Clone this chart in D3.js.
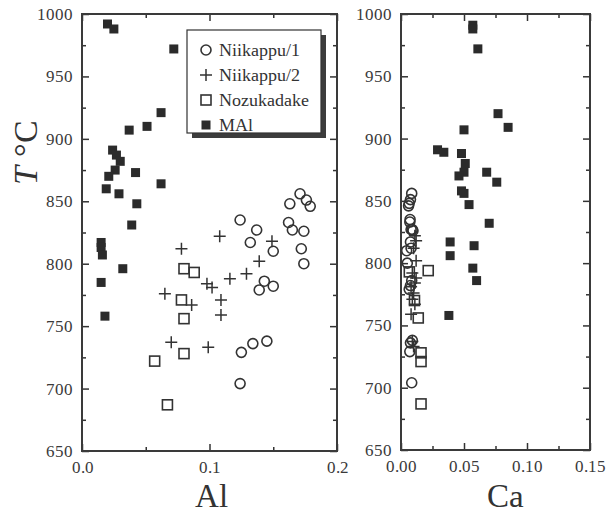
<!DOCTYPE html>
<html>
<head>
<meta charset="utf-8">
<script src="https://cdn.jsdelivr.net/npm/d3@7"></script>
<style>
  @font-face { font-family: 'ChartSerif'; src: local('Liberation Serif'), local('LiberationSerif'), local('Times New Roman'); font-style: normal; }
  @font-face { font-family: 'ChartSerif'; src: local('Liberation Serif Italic'), local('LiberationSerif-Italic'); font-style: italic; }
  #fig text, #fig tspan { font-family: 'ChartSerif', 'Times New Roman', 'Liberation Serif', serif; }
</style>
</head>
<body style="margin:0">
<svg id="fig" width="608" height="517"></svg>
<script>
// Temperature (°C) versus Al and Ca contents, four sample groups.

// Niikappu/1 : [Al, T]
const niikappu1Al = [
  [0.171, 856], [0.163, 848], [0.176, 851], [0.179, 846], [0.124, 835],
  [0.162, 833], [0.165, 827], [0.174, 826], [0.137, 827], [0.132, 817],
  [0.150, 810], [0.172, 812], [0.174, 800], [0.143, 786], [0.139, 779],
  [0.150, 782], [0.125, 729], [0.134, 736], [0.145, 738], [0.124, 704]
];
// Niikappu/2 : [Al, T]
const niikappu2Al = [
  [0.078, 812], [0.108, 822], [0.149, 818], [0.139, 802], [0.129, 792],
  [0.116, 788], [0.098, 784], [0.102, 781], [0.109, 771], [0.065, 776],
  [0.086, 767], [0.109, 759], [0.070, 737], [0.099, 733]
];
// Nozukadake : [Al, T]
const nozukadakeAl = [
  [0.080, 796], [0.088, 793], [0.078, 771], [0.080, 756], [0.080, 728],
  [0.057, 722], [0.067, 687]
];
// MAl : [Al, T]
const maiAl = [
  [0.020, 992], [0.025, 988], [0.072, 972], [0.062, 921], [0.051, 910],
  [0.037, 907], [0.024, 891], [0.027, 887], [0.030, 882], [0.026, 875],
  [0.021, 870], [0.042, 873], [0.062, 864], [0.019, 860], [0.029, 856],
  [0.043, 848], [0.039, 831], [0.015, 817], [0.015, 813], [0.016, 807],
  [0.032, 796], [0.015, 785], [0.018, 758]
];

// Niikappu/1 : [Ca, T]
const niikappu1Ca = [
  [0.0085, 856], [0.0075, 851], [0.0065, 848], [0.0060, 846], [0.0072, 835],
  [0.0070, 833], [0.0090, 827], [0.0095, 826], [0.0080, 827], [0.0075, 817],
  [0.0045, 810], [0.0080, 812], [0.0050, 800], [0.0085, 786], [0.0065, 779],
  [0.0075, 782], [0.0090, 738], [0.0075, 736], [0.0070, 729], [0.0085, 704]
];
// Niikappu/2 : [Ca, T]
const niikappu2Ca = [
  [0.011, 822], [0.012, 818], [0.010, 812], [0.012, 802], [0.009, 792],
  [0.012, 788], [0.011, 784], [0.008, 781], [0.010, 776], [0.009, 771],
  [0.011, 767], [0.008, 759], [0.009, 737], [0.010, 733]
];
// Nozukadake : [Ca, T]
const nozukadakeCa = [
  [0.0216, 794], [0.0066, 793], [0.0107, 770], [0.0137, 756], [0.0159, 728],
  [0.0159, 721], [0.0159, 687]
];
// MAl : [Ca, T]
const maiCa = [
  [0.057, 991], [0.057, 988], [0.061, 972], [0.077, 920], [0.085, 909],
  [0.050, 907], [0.029, 891], [0.034, 889], [0.048, 888], [0.051, 880],
  [0.050, 873], [0.046, 870], [0.068, 873], [0.076, 865], [0.048, 858],
  [0.050, 856], [0.054, 847], [0.070, 832], [0.039, 817], [0.058, 814],
  [0.039, 806], [0.057, 796], [0.060, 786], [0.038, 758]
];

// Axis ticks and labels
const tTicks = [650, 700, 750, 800, 850, 900, 950, 1000];
const tMinor = [675, 725, 775, 825, 875, 925, 975];
const alTicks = [0, 0.1, 0.2];
const alTickLabels = ["0.0", "0.1", "0.2"];
const alMinor = [0.05, 0.15];
const caTicks = [0, 0.05, 0.10, 0.15];
const caTickLabels = ["0.00", "0.05", "0.10", "0.15"];
const caMinor = [0.025, 0.075, 0.125];

const legendNames = ["Niikappu/1", "Niikappu/2", "Nozukadake", "MAl"];

const FONT = "'ChartSerif', 'Times New Roman', 'Liberation Serif', serif";
const svg = d3.select("#fig");
const ink = "#333";

// marker drawers
function drawCircles(g, data, x, y) {
  g.selectAll(null).data(data).join("circle")
    .attr("cx", d => x(d[0])).attr("cy", d => y(d[1])).attr("r", 5)
    .attr("fill", "none").attr("stroke", ink).attr("stroke-width", 1.6);
}
function drawCrosses(g, data, x, y) {
  const s = 6;
  g.selectAll(null).data(data).join("path")
    .attr("d", d => {
      const cx = x(d[0]), cy = y(d[1]);
      return `M${cx - s},${cy}H${cx + s}M${cx},${cy - s}V${cy + s}`;
    })
    .attr("fill", "none").attr("stroke", ink).attr("stroke-width", 1.5);
}
function drawOpenSquares(g, data, x, y) {
  const s = 10;
  g.selectAll(null).data(data).join("rect")
    .attr("x", d => x(d[0]) - s / 2).attr("y", d => y(d[1]) - s / 2)
    .attr("width", s).attr("height", s)
    .attr("fill", "none").attr("stroke", ink).attr("stroke-width", 1.6);
}
function drawFilledSquares(g, data, x, y) {
  const s = 9;
  g.selectAll(null).data(data).join("rect")
    .attr("x", d => x(d[0]) - s / 2).attr("y", d => y(d[1]) - s / 2)
    .attr("width", s).attr("height", s)
    .attr("fill", "#2b2b2b");
}

function panel(opt) {
  const x = d3.scaleLinear().domain(opt.xDomain).range([opt.left, opt.right]);
  const y = d3.scaleLinear().domain([650, 1000]).range([opt.bottom, opt.top]);
  const g = svg.append("g");

  const styleAxis = sel => {
    sel.attr("font-family", null).attr("font-size", null);
    sel.select(".domain").remove();
    sel.selectAll(".tick line").attr("stroke", ink).attr("stroke-width", 1.5);
    sel.selectAll(".tick text")
      .style("font-family", FONT).style("font-size", "17px").attr("fill", "#3a3a3a");
  };

  // major + minor ticks, all pointing inward
  g.append("g").attr("transform", `translate(${opt.left},0)`)
    .call(d3.axisLeft(y).tickValues(tTicks).tickSize(-7).tickPadding(9).tickFormat(d3.format("d")))
    .call(styleAxis);
  g.append("g").attr("transform", `translate(${opt.left},0)`)
    .call(d3.axisLeft(y).tickValues(tMinor).tickSize(-4).tickFormat(""))
    .call(styleAxis);
  g.append("g").attr("transform", `translate(${opt.right},0)`)
    .call(d3.axisRight(y).tickValues(tTicks).tickSize(-7).tickFormat(""))
    .call(styleAxis);
  g.append("g").attr("transform", `translate(${opt.right},0)`)
    .call(d3.axisRight(y).tickValues(tMinor).tickSize(-4).tickFormat(""))
    .call(styleAxis);

  g.append("g").attr("transform", `translate(0,${opt.bottom})`)
    .call(d3.axisBottom(x).tickValues(opt.xTicks).tickSize(-7).tickPadding(10)
      .tickFormat((d, i) => opt.xLabels[i]))
    .call(styleAxis);
  g.append("g").attr("transform", `translate(0,${opt.bottom})`)
    .call(d3.axisBottom(x).tickValues(opt.xMinor).tickSize(-4).tickFormat(""))
    .call(styleAxis);
  g.append("g").attr("transform", `translate(0,${opt.top})`)
    .call(d3.axisTop(x).tickValues(opt.xTicks).tickSize(-7).tickFormat(""))
    .call(styleAxis);
  g.append("g").attr("transform", `translate(0,${opt.top})`)
    .call(d3.axisTop(x).tickValues(opt.xMinor).tickSize(-4).tickFormat(""))
    .call(styleAxis);

  // frame
  g.append("rect")
    .attr("x", opt.left).attr("y", opt.top)
    .attr("width", opt.right - opt.left).attr("height", opt.bottom - opt.top)
    .attr("fill", "none").attr("stroke", "#3a3a3a").attr("stroke-width", 2);

  const m = g.append("g");
  drawCircles(m.append("g"), opt.s1, x, y);
  drawCrosses(m.append("g"), opt.s2, x, y);
  drawOpenSquares(m.append("g"), opt.s3, x, y);
  drawFilledSquares(m.append("g"), opt.s4, x, y);

  // axis title
  g.append("text")
    .attr("x", opt.titleX).attr("y", 507)
    .attr("text-anchor", "middle")
    .attr("fill", "#333")
    .style("font-family", FONT)
    .style("font-size", "33px")
    .text(opt.title);
  return g;
}

panel({
  xDomain: [0, 0.2], left: 82, right: 337, top: 14, bottom: 451,
  xTicks: alTicks, xLabels: alTickLabels, xMinor: alMinor,
  s1: niikappu1Al, s2: niikappu2Al, s3: nozukadakeAl, s4: maiAl,
  title: "Al", titleX: 211
});

panel({
  xDomain: [0, 0.15], left: 401, right: 590, top: 14, bottom: 450,
  xTicks: caTicks, xLabels: caTickLabels, xMinor: caMinor,
  s1: niikappu1Ca, s2: niikappu2Ca, s3: nozukadakeCa, s4: maiCa,
  title: "Ca", titleX: 505
});

// y-axis title: italic T, then °C
const yTitle = svg.append("text")
  .attr("transform", "translate(37,152) rotate(-90)")
  .attr("text-anchor", "middle")
  .attr("fill", "#333")
  .style("font-family", FONT)
  .style("font-size", "34px");
yTitle.append("tspan").style("font-style", "italic").text("T");
yTitle.append("tspan").text(" °C");

// legend box with drop shadow
const lg = svg.append("g");
lg.append("rect").attr("x", 192).attr("y", 35).attr("width", 134).attr("height", 103)
  .attr("fill", "#3c3c3c");
lg.append("rect").attr("x", 187).attr("y", 30).attr("width", 134).attr("height", 103)
  .attr("fill", "#fff").attr("stroke", "#333").attr("stroke-width", 1.2);

const legendMarkers = [drawCircles, drawCrosses, drawOpenSquares, drawFilledSquares];
const ly = d3.scalePoint().domain(legendNames).range([50, 125]);
legendNames.forEach((name, i) => {
  // legend marker drawn through identity scales at the row position
  const row = lg.append("g");
  const mx = d3.scaleIdentity(), my = d3.scaleIdentity();
  legendMarkers[i](row, [[206, ly(name)]], mx, my);
  row.append("text").attr("x", 219).attr("y", ly(name)).attr("dy", "0.35em")
    .attr("fill", "#333")
    .style("font-family", FONT)
    .style("font-size", "18px").text(name);
});
</script>
</body>
</html>
